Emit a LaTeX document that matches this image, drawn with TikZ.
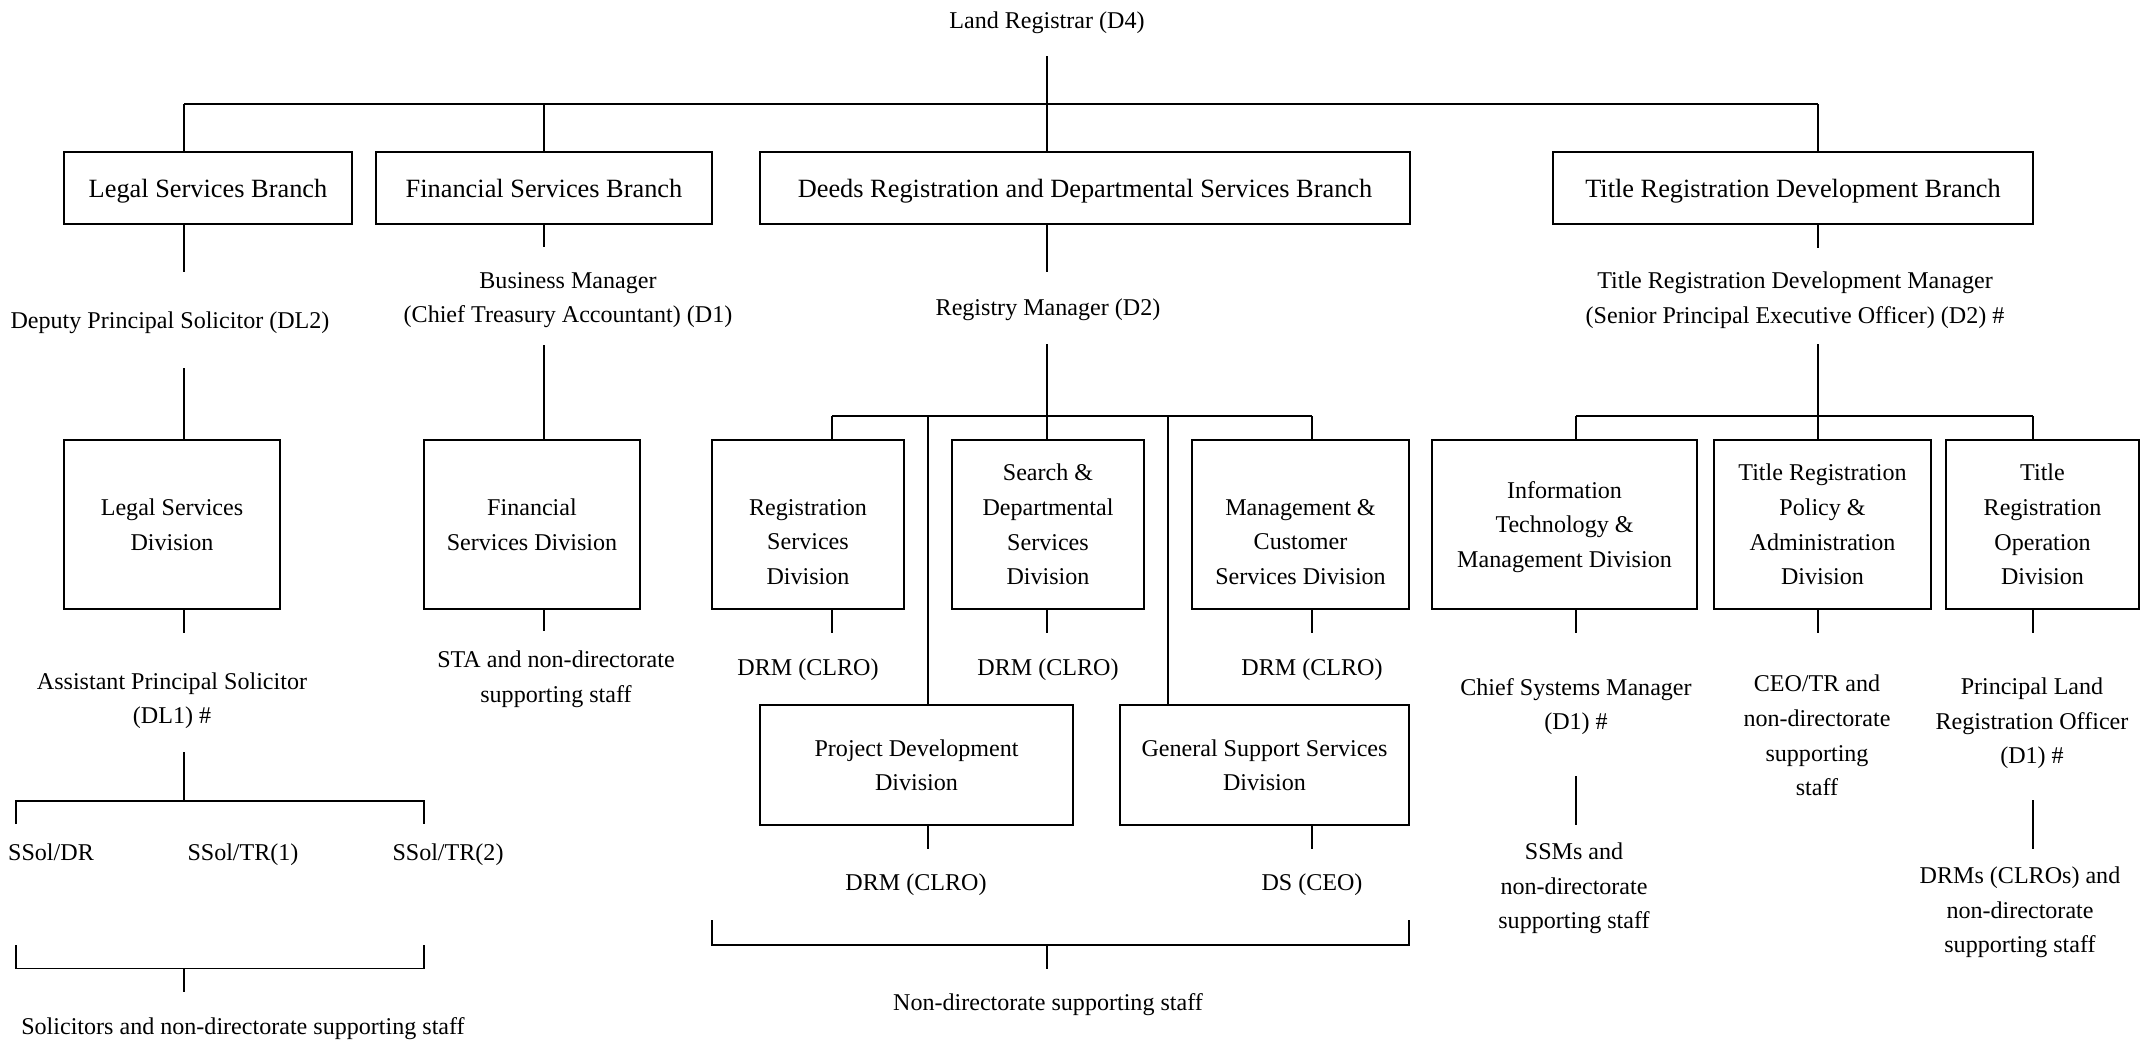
\documentclass[tikz,border=0pt]{standalone}
\usepackage{fontspec}
\setmainfont{Liberation Serif}
\usetikzlibrary{positioning}

\begin{document}
\begin{tikzpicture}[x=0.02cm, y=-0.02cm, line width=1.1pt,
  every node/.style={font=\fontsize{13.7}{19.7}\selectfont, align=center, inner sep=0pt, text depth=0pt},
  divbox/.style 2 args={draw, line width=1.3pt, minimum width=#1*0.02cm, minimum height=#2*0.02cm},
  brbox/.style={divbox={#1}{72}, font=\fontsize{15}{19.7}\selectfont}]
  \useasboundingbox (0,0) rectangle (2145,1041);

  % Top post
  \node (lr) at (1047,20) {Land Registrar (D4)};
  \coordinate (lr-d) at (1047,56);

  % Branch boxes
  \node[brbox=288] (lsb) at (208,188) {Legal Services Branch};
  \node[brbox=336] (fsb) at (544,188) {Financial Services Branch};
  \node[brbox=650] (drb) at (1085,188) {Deeds Registration and Departmental Services Branch};
  \node[brbox=480] (trb) at (1793,188) {Title Registration Development Branch};

  % Bus from top post to branches
  \coordinate (bus) at (1047,104);
  \draw (lr-d) -- (bus);
  \foreach \n/\x in {lsb/184, fsb/544, drb/1047, trb/1818} {
    \coordinate (\n-u) at (\x,104);
    \draw (\n-u) -- (\n-u |- \n.north);
  }
  \draw (lsb-u) -- (trb-u);

  % Legal services
  \node (dps) at (170,320) {Deputy Principal Solicitor (DL2)};
  \node[divbox={216}{169}] (lsd) at (172,524.5) {Legal Services\\Division};
  \node (aps) at (172,698) {Assistant Principal Solicitor\\(DL1) \#};
  \node (ss1) at (51,852) {SSol/DR};
  \node (ss2) at (243,852) {SSol/TR(1)};
  \node (ss3) at (448,852) {SSol/TR(2)};
  \node (sol) at (243,1026) {Solicitors and non-directorate supporting staff};
  \coordinate (lsb-d) at (184,272);
  \coordinate (dps-d) at (184,368);
  \coordinate (lsd-d) at (184,633);
  \coordinate (aps-d) at (184,752);
  \coordinate (ss-bus) at (184,801);
  \coordinate (ss1-u) at (16,824);
  \coordinate (ss3-u) at (424,824);
  \draw (lsb-d |- lsb.south) -- (lsb-d);
  \draw (dps-d) -- (dps-d |- lsd.north);
  \draw (lsd-d |- lsd.south) -- (lsd-d);
  \draw (aps-d) -- (ss-bus);
  \draw (ss1-u) |- (ss-bus) -| (ss3-u);
  % bracket over solicitors
  \coordinate (sb-l) at (16,945);
  \coordinate (sb-r) at (424,945);
  \coordinate (sb-m) at (184,968.5);
  \coordinate (sol-u) at (184,992);
  \draw (sb-l) |- (sb-m) -| (sb-r);
  \draw (sb-m) -- (sol-u);

  % Financial services
  \node (bm) at (568,297.5) {Business Manager\\(Chief Treasury Accountant) (D1)};
  \node[divbox={216}{169}] (fsd) at (532,524.5) {Financial\\Services Division};
  \node (sta) at (556,676.5) {STA and non-directorate\\supporting staff};
  \coordinate (fsb-d) at (544,247);
  \coordinate (bm-d) at (544,345);
  \coordinate (fsd-d) at (544,631);
  \draw (fsb-d |- fsb.south) -- (fsb-d);
  \draw (bm-d) -- (bm-d |- fsd.north);
  \draw (fsd-d |- fsd.south) -- (fsd-d);

  % Deeds registration
  \node (rm) at (1048,307) {Registry Manager (D2)};
  \node[divbox={192}{169}] (rsd) at (808,524.5) {\vphantom{S}\\Registration\\Services\\Division};
  \node[divbox={192}{169}] (sdd) at (1048,524.5) {Search \&\\Departmental\\Services\\Division};
  \node[divbox={217}{169}] (mcs) at (1300.5,524.5) {\vphantom{S}\\Management \&\\Customer\\Services Division};
  \node[divbox={313}{120}] (pdd) at (916.5,765) {Project Development\\Division};
  \node[divbox={289}{120}] (gss) at (1264.5,765) {General Support Services\\Division};
  \node (drm1) at (808,667) {DRM (CLRO)};
  \node (drm2) at (1048,667) {DRM (CLRO)};
  \node (drm3) at (1312,667) {DRM (CLRO)};
  \node (drm4) at (916,882) {DRM (CLRO)};
  \node (ds) at (1312,882) {DS (CEO)};
  \node (nds) at (1048,1002) {Non-directorate supporting staff};
  \coordinate (drb-d) at (1047,272);
  \coordinate (rm-d) at (1047,344);
  \coordinate (dbus) at (1047,416);
  \draw (drb-d |- drb.south) -- (drb-d);
  \draw (rm-d) -- (dbus);
  \foreach \n/\x in {rsd/832, pdd/928, sdd/1047, gss/1168, mcs/1312} {
    \coordinate (\n-u) at (\x,416);
    \draw (\n-u) -- (\n-u |- \n.north);
  }
  \draw (rsd-u) -- (mcs-u);
  \foreach \n/\x/\y in {rsd/832/633, sdd/1047/633, mcs/1312/633, pdd/928/849, gss/1312/849} {
    \coordinate (\n-d) at (\x,\y);
    \draw (\n-d |- \n.south) -- (\n-d);
  }
  % bracket over supporting staff
  \coordinate (db-l) at (712,920);
  \coordinate (db-r) at (1409,920);
  \coordinate (db-m) at (1047,945);
  \coordinate (nds-u) at (1047,969);
  \draw (db-l) |- (db-m) -| (db-r);
  \draw (db-m) -- (nds-u);

  % Title registration
  \node (trm) at (1795,297.5) {Title Registration Development Manager\\(Senior Principal Executive Officer) (D2) \#};
  \node[divbox={265}{169}] (itm) at (1564.5,524.5) {Information\\Technology \&\\Management Division};
  \node[divbox={217}{169}] (tpa) at (1822.5,524.5) {Title Registration\\Policy \&\\Administration\\Division};
  \node[divbox={193}{169}] (tro) at (2042.5,524.5) {Title\\Registration\\Operation\\Division};
  \node (csm) at (1576,704) {Chief Systems Manager\\(D1) \#};
  \node (ceo) at (1817,735.5) {CEO/TR and\\non-directorate\\supporting\\staff};
  \node (plro) at (2032,721) {Principal Land\\Registration Officer\\(D1) \#};
  \node (ssm) at (1574,886) {SSMs and\\non-directorate\\supporting staff};
  \node (drms) at (2020,910) {DRMs (CLROs) and\\non-directorate\\supporting staff};
  \coordinate (trb-d) at (1818,248);
  \coordinate (trm-d) at (1818,344);
  \coordinate (tbus) at (1818,416);
  \draw (trb-d |- trb.south) -- (trb-d);
  \draw (trm-d) -- (tbus);
  \foreach \n/\x in {itm/1576, tpa/1818, tro/2033} {
    \coordinate (\n-u) at (\x,416);
    \draw (\n-u) -- (\n-u |- \n.north);
    \coordinate (\n-d) at (\x,633);
    \draw (\n-d |- \n.south) -- (\n-d);
  }
  \draw (itm-u) -- (tro-u);
  \coordinate (csm-d) at (1576,776);
  \coordinate (ssm-u) at (1576,825);
  \draw (csm-d) -- (ssm-u);
  \coordinate (plro-d) at (2033,800);
  \coordinate (drms-u) at (2033,849);
  \draw (plro-d) -- (drms-u);
\end{tikzpicture}
\end{document}
